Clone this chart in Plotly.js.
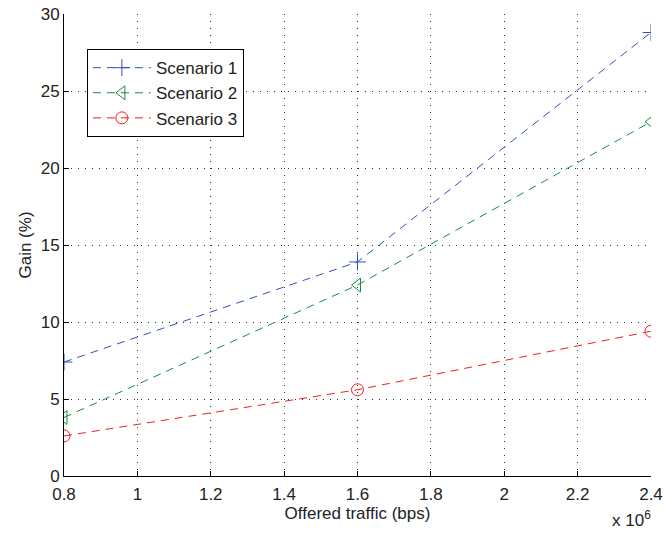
<!DOCTYPE html>
<html>
<head>
<meta charset="utf-8">
<script src="https://cdn.plot.ly/plotly-3.0.1.min.js"></script>
<style>html,body{margin:0;padding:0;background:#fff;}#chart{width:664px;height:536px;}</style>
</head>
<body>
<div id="chart"></div>
<script>
const traffic = [0.8, 1.6, 2.4];
const scenario1 = [7.4, 13.9, 28.8];
const scenario2 = [3.8, 12.4, 23.0];
const scenario3 = [2.6, 5.6, 9.4];
const seriesNames = ["Scenario 1", "Scenario 2", "Scenario 3"];
const xTicks = [0.8, 1, 1.2, 1.4, 1.6, 1.8, 2, 2.2, 2.4];
const xTickLabels = ["0.8", "1", "1.2", "1.4", "1.6", "1.8", "2", "2.2", "2.4"];
const yTicks = [0, 5, 10, 15, 20, 25, 30];

const font = "Liberation Sans, Arial, Helvetica, sans-serif";
const fs = 17;
function tr(y, name, color, symbol) {
  return {
    x: traffic, y: y, name: name, type: "scatter", mode: "lines+markers",
    legendgroup: name,
    line: {color: color, width: 1, dash: "8px,6px"},
    marker: {symbol: symbol, size: 12, color: color, line: {color: color, width: 1}}
  };
}
const data = [
  tr(scenario1, seriesNames[0], "#3050c0", "cross-thin-open"),
  tr(scenario2, seriesNames[1], "#1a8c40", "triangle-left-open"),
  tr(scenario3, seriesNames[2], "#ee2020", "circle-open")
];
const axisCommon = {
  showline: true, linecolor: "#000", linewidth: 1, mirror: false,
  ticks: "inside", ticklen: 5, tickcolor: "#000",
  showgrid: true, gridcolor: "#333", griddash: "1px,6px", gridwidth: 1,
  zeroline: false, tickfont: {family: font, size: fs, color: "#222"}
};
const layout = {
  width: 664, height: 536,
  margin: {l: 64, r: 13, t: 14, b: 60},
  paper_bgcolor: "#fff", plot_bgcolor: "#fff",
  font: {family: font, color: "#222", size: fs},
  showlegend: true,
  xaxis: Object.assign({}, axisCommon, {
    range: [0.8, 2.4], tickvals: xTicks, ticktext: xTickLabels,
    ticklabelstandoff: 3,
    title: {text: "Offered traffic (bps)", font: {family: font, size: fs, color: "#222"}, standoff: 2}
  }),
  yaxis: Object.assign({}, axisCommon, {
    range: [0, 30], tickvals: yTicks,
    title: {text: "Gain (%)", font: {family: font, size: fs, color: "#222"}, standoff: 4}
  }),
  legend: {
    x: 0.039, y: 0.924, xanchor: "left", yanchor: "top",
    bgcolor: "#fff", bordercolor: "#000", borderwidth: 1,
    font: {family: font, size: fs, color: "#222"},
    tracegroupgap: 0, itemwidth: 58
  },
  annotations: [{
    text: "x 10<sup>6</sup>", xref: "paper", yref: "paper", x: 1.004, y: -0.093,
    xanchor: "right", yanchor: "middle", showarrow: false,
    font: {family: font, size: fs, color: "#222"}
  }]
};
Plotly.newPlot("chart", data, layout, {displayModeBar: false, staticPlot: true});
</script>
</body>
</html>
